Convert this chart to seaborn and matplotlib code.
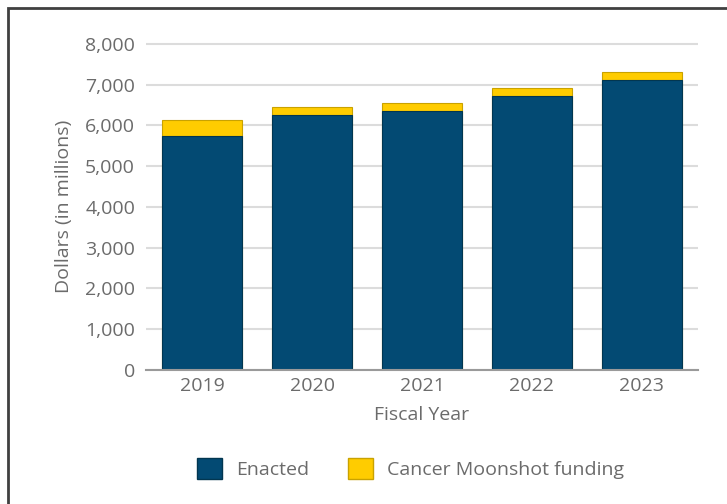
import numpy as np
import pandas as pd
import seaborn as sns
from matplotlib import pyplot as plt
from matplotlib.patches import Patch, Rectangle

# NCI budget, dollars in millions
years = ['2019', '2020', '2021', '2022', '2023']
enacted = [5744, 6245, 6365, 6718, 7104]
moonshot = [400, 195, 195, 194, 216]

navy = '#034a73'
yellow = '#ffcc00'
grey_text = '#6b6b6b'

df = pd.DataFrame({'year': years, 'enacted': enacted, 'moonshot': moonshot})
df['total'] = df['enacted'] + df['moonshot']

sns.set_style('white')
plt.rcParams['font.family'] = ['Open Sans', 'DejaVu Sans']

fig = plt.figure(figsize=(7.27, 5.04), dpi=100)
ax = fig.add_axes([0.201, 0.266, 0.759, 0.651])

sns.barplot(data=df, x='year', y='total', color=yellow, width=0.727,
            saturation=1, edgecolor='#c9a200', linewidth=0.8, ax=ax, zorder=2)
sns.barplot(data=df, x='year', y='enacted', color=navy, width=0.727,
            saturation=1, edgecolor='#023650', linewidth=0.8, ax=ax, zorder=3)

ax.set_xlim(-0.51, 4.51)
ax.set_ylim(0, 8050)
ax.set_yticks(np.arange(0, 8001, 1000))
ax.set_yticklabels([f'{v:,}' for v in range(0, 8001, 1000)])
ax.yaxis.grid(True, color='#dcdcdc', linewidth=1.5, zorder=0)
ax.set_axisbelow(True)

for s in ['top', 'right', 'left']:
    ax.spines[s].set_visible(False)
ax.spines['bottom'].set_color('#9a9a9a')
ax.spines['bottom'].set_linewidth(1.5)
ax.spines['bottom'].set_zorder(5)

ax.tick_params(axis='both', length=0, labelsize=14, colors=grey_text)
ax.tick_params(axis='y', pad=8)
ax.tick_params(axis='x', pad=5)

ax.set_xlabel('Fiscal Year', fontsize=14, color=grey_text, labelpad=8)
ax.set_ylabel('Dollars (in millions)', fontsize=14, color=grey_text, labelpad=9)

handles = [Patch(facecolor=navy, edgecolor='#023650', label='Enacted'),
           Patch(facecolor=yellow, edgecolor='#c9a200', label='Cancer Moonshot funding')]
leg = fig.legend(handles=handles, loc='center', bbox_to_anchor=(0.565, 0.07), ncol=2,
                 frameon=False, fontsize=14, handlelength=1.25, handleheight=1.25,
                 columnspacing=2.0, handletextpad=0.75)
for t in leg.get_texts():
    t.set_color(grey_text)

# outer frame of the picture
fig.patches.append(Rectangle((8 / 727, -0.1), 1.2, 1.1 - 8 / 504, transform=fig.transFigure,
                             fill=False, edgecolor='#404040', linewidth=2))

fig.savefig('out.png', dpi=100)
